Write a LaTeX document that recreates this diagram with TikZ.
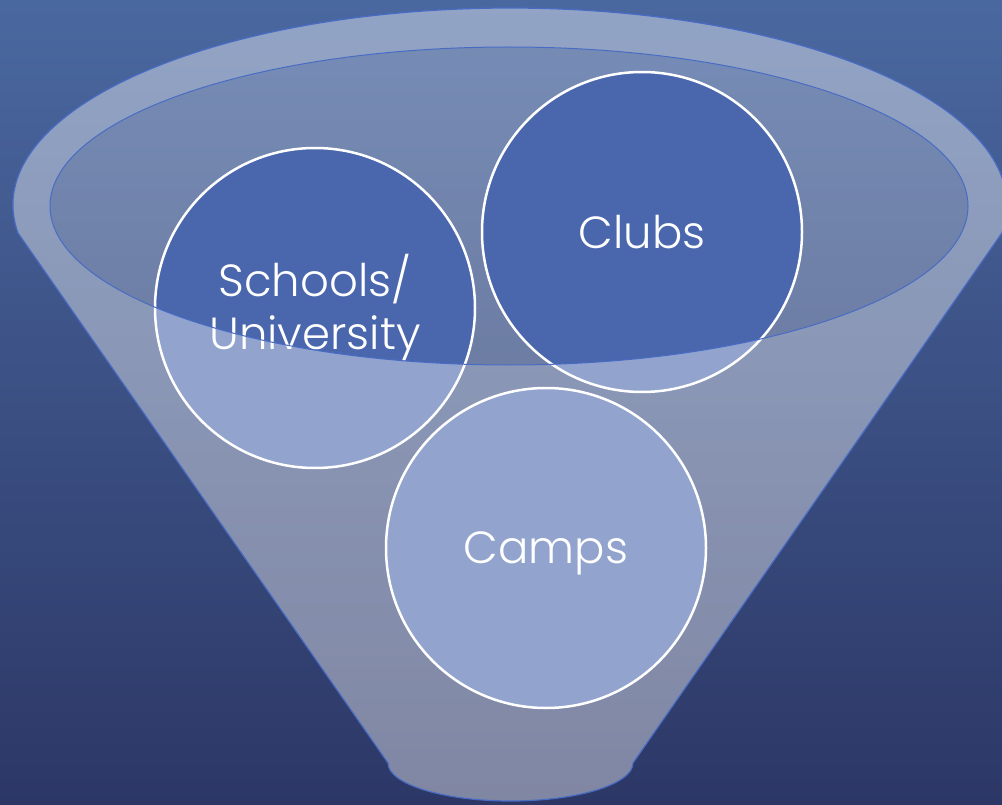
\documentclass[tikz,border=0pt]{standalone}
\usepackage{fontspec}
\IfFontExistsTF{Poppins Light}{\setmainfont{Poppins Light}}{\setmainfont{Poppins}}
\definecolor{bgtop}{RGB}{74,104,160}
\definecolor{bgbot}{RGB}{44,55,102}
\definecolor{bubblefill}{RGB}{74,103,174}
\definecolor{edgeblue}{RGB}{72,108,196}
\begin{document}
\begin{tikzpicture}[x=1pt,y=-1pt,
  bubble/.style={circle, draw=white, line width=2.5pt, fill=bubblefill,
    minimum size=320pt, inner sep=0pt, text=white,
    font=\fontsize{45}{53}\selectfont, align=center},
  rimline/.style={draw=edgeblue, line width=1.2pt},
  glass/.style={fill=white, fill opacity=0.4, even odd rule},
  opening/.style={fill=white, fill opacity=0.25}]
\useasboundingbox (0,0) rectangle (1002,805);
\fill[top color=bgtop, bottom color=bgbot] (0,0) rectangle (1002,805);
% funnel opening (back)
\fill[opening] (509,206) ellipse [x radius=459, y radius=159];
% circles
\node[bubble] (schools) at (315,308) {Schools/\\University};
\node[bubble] (clubs) at (642,232) {Clubs};
\node[bubble, text depth=0pt] (camps) at (546,548) {Camps};
% funnel body (front)
\path[glass] (18,233) arc[start angle=171.83, end angle=368.17, x radius=497, y radius=197]
  -- (633,763) arc[start angle=0, end angle=180, x radius=122.5, y radius=38] -- cycle
  (509,206) ellipse [x radius=459, y radius=159];
\draw[rimline] (18,233) arc[start angle=171.83, end angle=368.17, x radius=497, y radius=197]
  -- (633,763) arc[start angle=0, end angle=180, x radius=122.5, y radius=38] -- cycle;
\draw[rimline, line width=1pt] (509,206) ellipse [x radius=459, y radius=159];
\end{tikzpicture}
\end{document}
